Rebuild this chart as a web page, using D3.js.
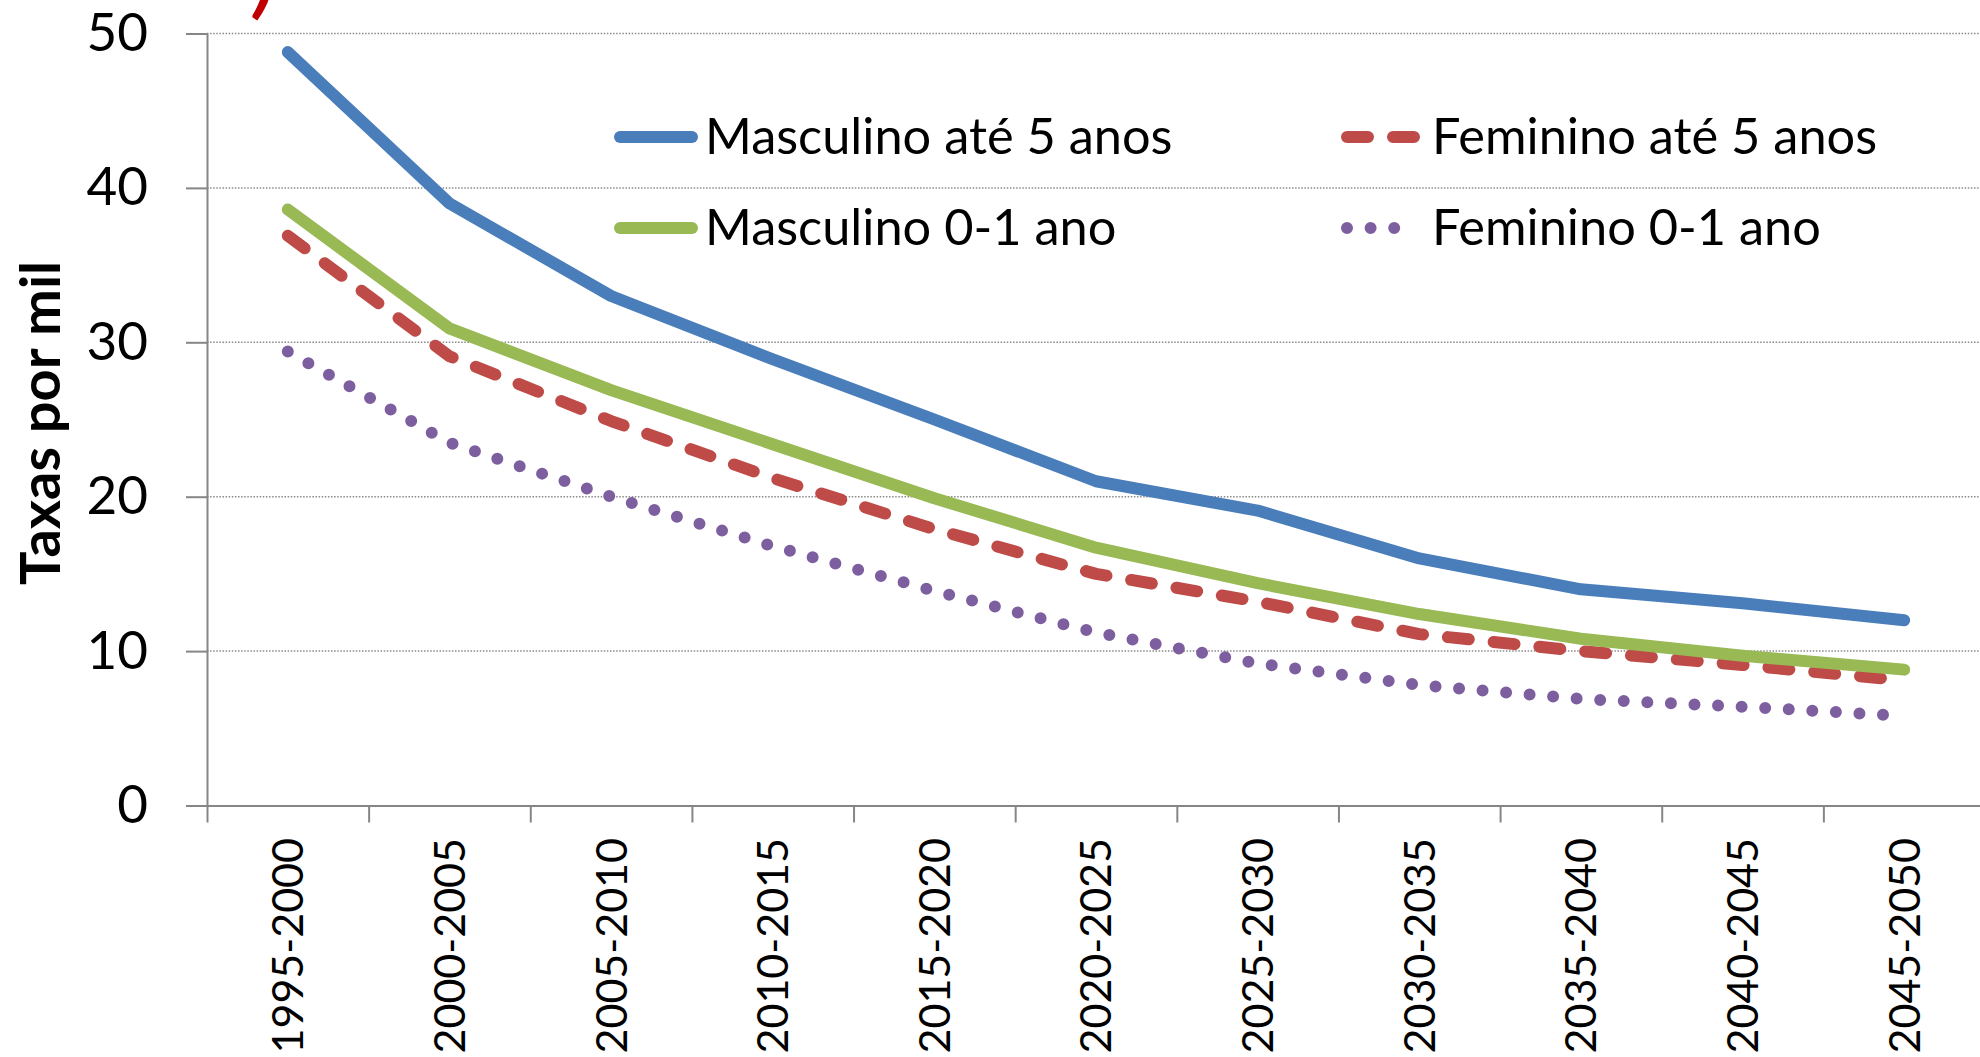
<!DOCTYPE html>
<html>
<head>
<meta charset="utf-8">
<script src="https://cdn.jsdelivr.net/npm/d3@7"></script>
<style>
body { margin: 0; background: #fff; }
svg text { font-family: Lato, 'Open Sans', sans-serif; }
</style>
</head>
<body>
<script>
const periods = ['1995-2000', '2000-2005', '2005-2010', '2010-2015', '2015-2020', '2020-2025',
	'2025-2030', '2030-2035', '2035-2040', '2040-2045', '2045-2050']
const yTicks = [0, 10, 20, 30, 40, 50]

const seriesNames = ['Masculino até 5 anos', 'Feminino até 5 anos', 'Masculino 0-1 ano', 'Feminino 0-1 ano']
const masculino5 = [48.8, 39.0, 33.0, 28.9, 25.0, 21.0, 19.1, 16.0, 14.0, 13.1, 12.0]
const feminino5 = [36.9, 29.1, 24.9, 21.2, 17.9, 15.0, 13.2, 11.1, 10.0, 9.1, 8.1]
const masculino01 = [38.6, 30.9, 26.9, 23.4, 19.9, 16.7, 14.4, 12.4, 10.8, 9.7, 8.8]
const feminino01 = [29.4, 23.5, 20.0, 16.8, 13.9, 11.2, 9.2, 7.8, 6.9, 6.4, 5.8]
const seriesValues = [masculino5, feminino5, masculino01, feminino01]

const width = 1980
const height = 1057
const plot = { left: 207, right: 1985, top: 33.5, bottom: 805.5 }

// visual style per series (same order as seriesNames)
const colors = ['#4A7EBB', '#BE4B48', '#98B954', '#7D5FA0']
const dashes = [null, '21,25', null, '0,23.6']
const lineWidth = 12

const svg = d3.select('body')
	.append('svg')
	.attr('width', width)
	.attr('height', height)

const x = d3.scaleBand()
	.domain(periods)
	.range([plot.left, plot.right])

const xEdge = d3.scaleLinear()
	.domain([0, periods.length])
	.range([plot.left, plot.right])

const y = d3.scaleLinear()
	.domain([0, 50])
	.range([plot.bottom, plot.top])

// cut-off title fragment at the top
svg.append('text')
	.attr('x', 254)
	.attr('y', 8)
	.attr('fill', '#C00000')
	.attr('font-size', 80)
	.attr('font-weight', 'bold')
	.attr('font-style', 'italic')
	.text(')')

// dotted gridlines
svg.append('g')
	.selectAll('line')
	.data(yTicks.filter(d => d > 0))
	.join('line')
	.attr('x1', plot.left)
	.attr('x2', plot.right)
	.attr('y1', d => y(d))
	.attr('y2', d => y(d))
	.attr('stroke', '#8a8a8a')
	.attr('stroke-width', 1.5)
	.attr('stroke-dasharray', '1.5,1.6')

const styleAxis = g => {
	g.selectAll('.domain, .tick line')
		.attr('stroke', '#868686')
		.attr('stroke-width', 2)
	g.attr('font-family', null)
}

// y axis
svg.append('g')
	.attr('transform', `translate(${plot.left},0)`)
	.call(d3.axisLeft(y).tickValues(yTicks).tickSize(21).tickSizeOuter(0).tickPadding(38))
	.call(styleAxis)
	.call(g => g.selectAll('text')
		.attr('font-size', 53)
		.attr('fill', '#000'))

// x axis (ticks on category edges)
svg.append('g')
	.attr('transform', `translate(0,${plot.bottom})`)
	.call(d3.axisBottom(xEdge).tickValues(d3.range(periods.length + 1)).tickSize(17).tickSizeOuter(0).tickFormat(''))
	.call(styleAxis)

// x labels, rotated
svg.append('g')
	.selectAll('text')
	.data(periods)
	.join('text')
	.attr('transform', d => `translate(${x(d) + x.bandwidth() / 2},838) rotate(-90)`)
	.attr('text-anchor', 'end')
	.attr('dy', '0.36em')
	.attr('font-size', 43)
	.attr('fill', '#000')
	.text(d => d)

// y title
svg.append('text')
	.attr('transform', 'translate(60,423) rotate(-90)')
	.attr('text-anchor', 'middle')
	.attr('font-size', 56)
	.attr('font-weight', 'bold')
	.attr('fill', '#000')
	.text('Taxas por mil')

const lineMaker = d3.line()
	.x((d, i) => x(periods[i]) + x.bandwidth() / 2)
	.y(d => y(d))

svg.append('g')
	.selectAll('path')
	.data(seriesValues)
	.join('path')
	.attr('d', d => lineMaker(d))
	.attr('fill', 'none')
	.attr('stroke', (d, i) => colors[i])
	.attr('stroke-width', lineWidth)
	.attr('stroke-linecap', 'round')
	.attr('stroke-linejoin', 'round')
	.attr('stroke-dasharray', (d, i) => dashes[i])

// Legend: two columns, two rows
const legendCols = [{ x1: 620, x2: 692, tx: 705 }, { x1: 1347, x2: 1414, tx: 1432 }]
const legendRows = [137, 228]

const legend = svg.selectAll('.legend')
	.data(seriesNames)
	.enter()
	.append('g')
	.attr('class', 'legend')
	.attr('transform', (d, i) => `translate(0,${legendRows[Math.floor(i / 2)]})`)

legend.append('line')
	.attr('x1', (d, i) => legendCols[i % 2].x1)
	.attr('x2', (d, i) => legendCols[i % 2].x2)
	.attr('stroke', (d, i) => colors[i])
	.attr('stroke-width', lineWidth)
	.attr('stroke-linecap', 'round')
	.attr('stroke-dasharray', (d, i) => dashes[i])

legend.append('text')
	.attr('x', (d, i) => legendCols[i % 2].tx)
	.attr('y', 17)
	.attr('font-size', 50.5)
	.attr('fill', '#000')
	.text(d => d)
</script>
</body>
</html>
